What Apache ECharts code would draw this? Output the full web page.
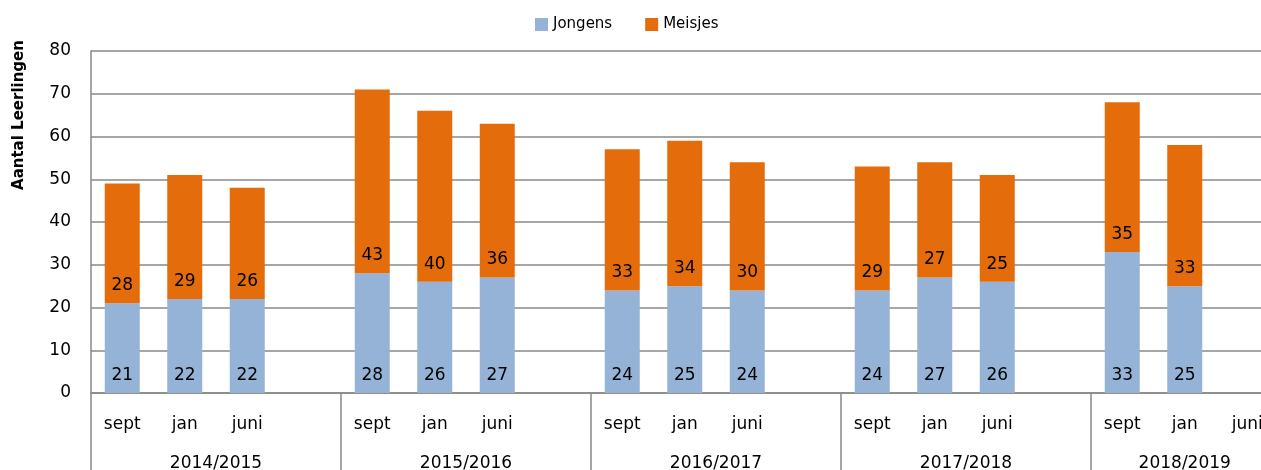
<!DOCTYPE html>
<html>
<head>
<meta charset="utf-8">
<script src="https://cdn.jsdelivr.net/npm/echarts@6/dist/echarts.min.js"></script>
<style>
	html, body { margin: 0; padding: 0; background: #fff; }
	#chart { width: 1261px; height: 470px; }
</style>
</head>
<body>
<div id="chart"></div>
<script>
var years = ['2014/2015', '2015/2016', '2016/2017', '2017/2018', '2018/2019'];
var months = ['sept', 'jan', 'juni'];
// per year: sept, jan, juni
var jongens = [
	[21, 22, 22],
	[28, 26, 27],
	[24, 25, 24],
	[24, 27, 26],
	[33, 25, null]
];
var meisjes = [
	[28, 29, 26],
	[43, 40, 36],
	[33, 34, 30],
	[29, 27, 25],
	[35, 33, null]
];

(function(){
	var myChart = echarts.init(document.getElementById('chart'));
	var font = 'DejaVu Sans';
	var grey = '#888888';

	// one slot per month plus an empty slot between school years.
	// items are [aantal, slot] so the count is the stacked dimension
	var jData = [], mData = [], monthPos = [], monthName = {};
	var sepPos = [], yearPos = [], yearName = {};
	var slot = 0;
	years.forEach(function (y, i) {
		sepPos.push(slot - 0.5);
		months.forEach(function (m, k) {
			monthPos.push(slot);
			monthName[slot] = m;
			if (jongens[i][k] != null) jData.push([jongens[i][k], slot]);
			if (meisjes[i][k] != null) mData.push([meisjes[i][k], slot]);
			slot++;
		});
		var span = (i < years.length - 1) ? 4 : 3;
		var mid = sepPos[i] + span / 2;
		yearPos.push(mid);
		yearName[mid.toFixed(2)] = y;
		slot++;
	});

	// the plot is cut off a little after the last slot
	var xMin = -0.5, xMax = 18.22;

	var barLabel = {
		show: true,
		position: 'insideBottom',
		distance: 9,
		color: '#000',
		fontFamily: font,
		fontSize: 17,
		formatter: function (p) { return p.value[0]; }
	};

	var option = {
		animation: false,
		textStyle: { fontFamily: font },
		legend: {
			top: 12,
			left: 530,
			itemGap: 33,
			itemWidth: 13,
			itemHeight: 13,
			icon: 'rect',
			textStyle: { fontFamily: font, fontSize: 15, color: '#000' },
			data: ['Jongens', 'Meisjes']
		},
		grid: {
			left: 91,
			right: 0,
			top: 51,
			bottom: 77,
			containLabel: false,
			outerBoundsMode: 'none'
		},
		graphic: [{
			type: 'text',
			x: 19,
			y: 115,
			rotation: Math.PI / 2,
			style: {
				text: 'Aantal Leerlingen',
				fontFamily: font,
				fontWeight: 'bold',
				fontSize: 15,
				fill: '#000',
				textAlign: 'center',
				textVerticalAlign: 'middle'
			}
		}],
		xAxis: [{
			type: 'value',
			min: xMin,
			max: xMax,
			axisLine: { show: true, onZero: false, lineStyle: { color: grey, width: 1.5 } },
			axisTick: { show: false },
			splitLine: { show: false },
			axisLabel: {
				customValues: monthPos,
				color: '#000',
				fontSize: 17,
				fontFamily: font,
				margin: 23,
				formatter: function (v) { return monthName[Math.round(v)] || ''; }
			}
		}, {
			type: 'value',
			position: 'bottom',
			min: xMin,
			max: xMax,
			axisLine: { show: false, onZero: false },
			splitLine: { show: false },
			axisTick: {
				show: true,
				length: 80,
				customValues: sepPos,
				lineStyle: { color: grey, width: 1.5 }
			},
			axisLabel: {
				customValues: yearPos,
				margin: 62,
				color: '#000',
				fontSize: 17,
				fontFamily: font,
				formatter: function (v) { return yearName[v.toFixed(2)] || ''; }
			}
		}],
		yAxis: {
			type: 'value',
			min: 0,
			max: 80,
			interval: 10,
			axisLine: { show: true, onZero: false, lineStyle: { color: grey, width: 1.5 } },
			axisTick: { show: false },
			axisLabel: { color: '#000', fontSize: 17, fontFamily: font, margin: 20 },
			splitLine: { lineStyle: { color: grey, width: 1.5 } }
		},
		series: [{
			name: 'Jongens',
			type: 'bar',
			stack: 'totaal',
			barWidth: 35,
			encode: { x: 1, y: 0 },
			itemStyle: { color: '#95B3D7' },
			label: barLabel,
			data: jData
		}, {
			name: 'Meisjes',
			type: 'bar',
			stack: 'totaal',
			barWidth: 35,
			encode: { x: 1, y: 0 },
			itemStyle: { color: '#E46C0A' },
			label: barLabel,
			data: mData
		}]
	};

	myChart.setOption(option);
})();
</script>
</body>
</html>
